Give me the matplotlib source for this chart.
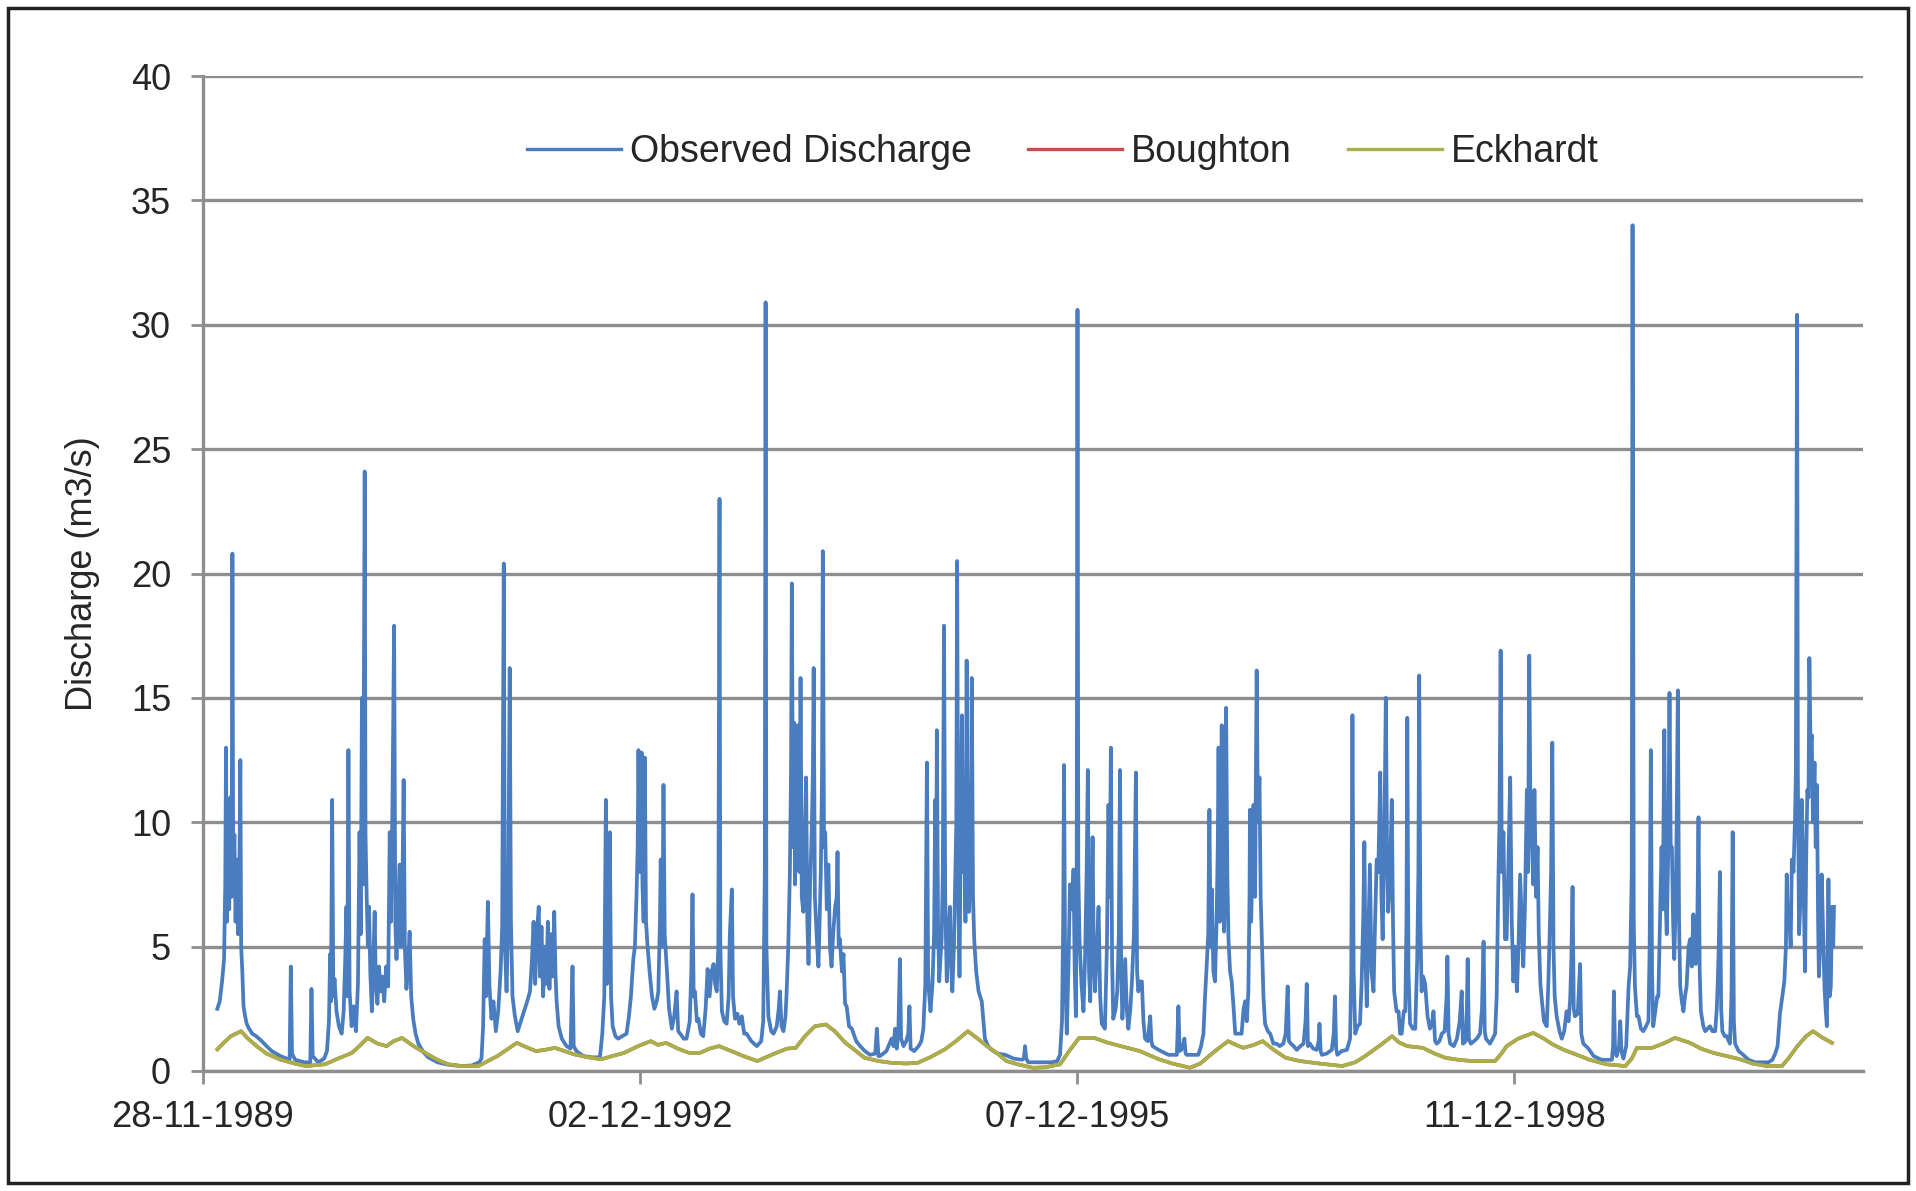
import numpy as np
import matplotlib
matplotlib.use("Agg")
import matplotlib.pyplot as plt
import matplotlib.dates as mdates
from matplotlib.patches import Rectangle

start_date = np.datetime64("1989-11-28")

obs_day = [
    36, 42, 48, 53, 56, 58, 60, 63, 66, 69, 72, 74, 76, 79, 82, 85, 88, 91, 94, 96, 99, 102, 106, 110, 116, 124,
    134, 148, 160, 173, 195, 218, 221, 224, 232, 255, 270, 273, 276, 290, 305, 312, 317, 320, 322, 325, 328, 331,
    336, 342, 349, 354, 358, 361, 363, 366, 369, 374, 379, 385, 390, 394, 397, 400, 403, 407, 409, 412, 415, 418,
    421, 425, 428, 432, 435, 439, 443, 447, 451, 456, 461, 466, 470, 473, 477, 481, 484, 487, 491, 495, 498, 502,
    505, 508, 512, 516, 520, 524, 529, 535, 542, 555, 567, 590, 618, 650, 676, 695, 701, 705, 709, 712, 717, 721,
    726, 731, 737, 743, 749, 753, 757, 760, 764, 768, 772, 775, 779, 785, 792, 800, 808, 816, 823, 828, 832, 836,
    840, 845, 848, 852, 856, 860, 864, 868, 872, 876, 880, 884, 887, 890, 895, 903, 915, 925, 930, 933, 940, 957,
    980, 999, 1005, 1010, 1014, 1017, 1020, 1024, 1027, 1031, 1038, 1045, 1055, 1066, 1072, 1077, 1083, 1087, 1091,
    1094, 1096, 1099, 1101, 1104, 1106, 1109, 1112, 1115, 1119, 1124, 1130, 1136, 1142, 1146, 1150, 1152, 1156,
    1159, 1162, 1167, 1173, 1180, 1186, 1192, 1196, 1201, 1210, 1217, 1225, 1229, 1232, 1235, 1238, 1243, 1247,
    1253, 1259, 1265, 1270, 1275, 1280, 1285, 1289, 1293, 1297, 1300, 1302, 1306, 1312, 1318, 1323, 1326, 1331,
    1334, 1339, 1345, 1350, 1356, 1362, 1368, 1380, 1394, 1405, 1410, 1414, 1416, 1418, 1423, 1430, 1436, 1444,
    1449, 1452, 1456, 1461, 1466, 1469, 1473, 1477, 1480, 1482, 1485, 1488, 1490, 1494, 1497, 1501, 1504, 1507,
    1511, 1514, 1518, 1521, 1524, 1528, 1532, 1535, 1537, 1540, 1545, 1549, 1555, 1558, 1560, 1563, 1566, 1570,
    1574, 1578, 1582, 1586, 1591, 1595, 1597, 1600, 1603, 1608, 1612, 1616, 1620, 1626, 1633, 1644, 1654, 1666,
    1679, 1692, 1696, 1700, 1704, 1720, 1733, 1738, 1742, 1746, 1750, 1754, 1757, 1763, 1770, 1775, 1778, 1781,
    1790, 1801, 1808, 1813, 1818, 1822, 1825, 1827, 1831, 1836, 1840, 1843, 1845, 1847, 1850, 1853, 1856, 1859,
    1862, 1865, 1868, 1872, 1876, 1880, 1883, 1886, 1890, 1893, 1896, 1898, 1901, 1904, 1907, 1910, 1913, 1916,
    1919, 1922, 1925, 1928, 1932, 1935, 1938, 1941, 1946, 1952, 1960, 1968, 1976, 1985, 2000, 2019, 2040, 2061,
    2066, 2069, 2072, 2077, 2100, 2136, 2150, 2157, 2162, 2165, 2167, 2170, 2174, 2178, 2182, 2186, 2191, 2194,
    2197, 2199, 2201, 2203, 2206, 2211, 2216, 2220, 2224, 2227, 2230, 2233, 2236, 2239, 2242, 2245, 2250, 2254,
    2258, 2262, 2270, 2275, 2279, 2282, 2285, 2288, 2291, 2297, 2301, 2305, 2308, 2311, 2314, 2318, 2321, 2325,
    2329, 2334, 2338, 2343, 2348, 2351, 2354, 2359, 2363, 2367, 2371, 2378, 2384, 2387, 2390, 2405, 2430, 2451,
    2455, 2458, 2462, 2466, 2470, 2473, 2476, 2490, 2505, 2512, 2518, 2522, 2526, 2530, 2533, 2536, 2539, 2543,
    2547, 2551, 2554, 2556, 2559, 2562, 2564, 2567, 2570, 2573, 2575, 2578, 2581, 2585, 2589, 2594, 2598, 2606,
    2614, 2619, 2623, 2627, 2631, 2634, 2635, 2638, 2641, 2644, 2648, 2650, 2652, 2655, 2659, 2662, 2665, 2669,
    2673, 2680, 2686, 2694, 2702, 2710, 2719, 2725, 2730, 2733, 2738, 2745, 2753, 2762, 2770, 2775, 2778, 2781,
    2786, 2794, 2803, 2808, 2810, 2813, 2816, 2828, 2841, 2846, 2849, 2852, 2855, 2866, 2879, 2887, 2890, 2893,
    2896, 2900, 2906, 2912, 2916, 2920, 2923, 2926, 2929, 2933, 2937, 2941, 2946, 2950, 2954, 2958, 2961, 2963,
    2966, 2969, 2973, 2977, 2980, 2983, 2987, 2992, 2995, 2998, 3004, 3009, 3013, 3017, 3022, 3026, 3029, 3031,
    3034, 3038, 3045, 3051, 3056, 3059, 3061, 3064, 3067, 3071, 3076, 3082, 3088, 3094, 3097, 3101, 3105, 3112,
    3118, 3125, 3130, 3132, 3135, 3139, 3148, 3156, 3163, 3168, 3171, 3178, 3181, 3183, 3186, 3191, 3199, 3206,
    3214, 3219, 3223, 3226, 3229, 3239, 3246, 3252, 3256, 3260, 3263, 3266, 3269, 3273, 3277, 3281, 3285, 3290,
    3294, 3298, 3302, 3307, 3311, 3315, 3319, 3323, 3327, 3332, 3335, 3338, 3341, 3344, 3348, 3351, 3355, 3359,
    3362, 3366, 3370, 3375, 3382, 3386, 3390, 3393, 3396, 3399, 3402, 3407, 3414, 3420, 3426, 3432, 3437, 3441,
    3444, 3447, 3450, 3453, 3460, 3466, 3469, 3474, 3487, 3500, 3520, 3546, 3549, 3551, 3554, 3558, 3564, 3567,
    3570, 3575, 3582, 3588, 3592, 3596, 3598, 3601, 3604, 3609, 3613, 3619, 3625, 3632, 3638, 3641, 3644, 3647,
    3650, 3656, 3660, 3663, 3667, 3671, 3674, 3678, 3681, 3684, 3688, 3691, 3694, 3697, 3700, 3703, 3707, 3709,
    3712, 3715, 3718, 3722, 3726, 3730, 3734, 3739, 3743, 3747, 3751, 3754, 3757, 3761, 3764, 3767, 3770, 3776,
    3781, 3787, 3793, 3799, 3806, 3810, 3812, 3815, 3818, 3821, 3824, 3830, 3835, 3843, 3847, 3850, 3853, 3856,
    3865, 3873, 3890, 3906, 3925, 3940, 3950, 3957, 3963, 3969, 3975, 3980, 3984, 3986, 3989, 3992, 3996, 3999,
    4003, 4007, 4009, 4012, 4014, 4017, 4021, 4024, 4028, 4032, 4035, 4038, 4041, 4043, 4046, 4049, 4052, 4056,
    4059, 4062, 4065, 4067, 4070, 4074, 4077, 4081, 4084, 4087, 4091, 4094, 4097, 4100, 4103, 4105,
]
obs_q = [
    2.5, 2.8, 3.6, 4.5, 7.5, 13.0, 6.0, 9.0, 6.5, 11.0, 7.0, 20.8, 8.0, 9.5, 6.0, 8.5, 5.5, 7.0, 12.5, 5.0, 4.0, 2.6,
    2.2, 1.9, 1.7, 1.5, 1.4, 1.2, 1.0, 0.8, 0.6, 0.45, 4.2, 0.7, 0.45, 0.35, 0.35, 3.3, 0.6, 0.35, 0.5, 0.8, 2.0,
    4.7, 2.8, 10.9, 3.0, 3.7, 2.4, 1.8, 1.5, 2.4, 4.5, 6.6, 3.0, 12.9, 3.2, 1.8, 2.6, 1.6, 3.5, 9.6, 5.5, 15.0, 7.5,
    24.1, 9.5, 7.0, 5.0, 6.6, 4.0, 2.4, 3.8, 6.4, 3.5, 2.7, 4.2, 3.2, 3.8, 2.8, 4.2, 3.4, 9.6, 6.0, 11.0, 17.9, 6.0,
    4.5, 6.5, 8.3, 5.0, 7.5, 11.7, 5.0, 3.3, 4.2, 5.6, 3.0, 2.1, 1.5, 1.1, 0.75, 0.55, 0.35, 0.25, 0.2, 0.22, 0.35,
    0.5, 1.8, 5.3, 3.0, 6.8, 3.4, 2.1, 2.8, 1.6, 2.4, 4.0, 5.8, 20.4, 5.0, 3.2, 6.0, 16.2, 6.0, 3.0, 2.2, 1.6, 2.0,
    2.4, 2.8, 3.2, 4.5, 6.0, 3.5, 5.5, 6.6, 3.8, 5.8, 3.0, 5.0, 3.5, 6.0, 3.3, 5.5, 3.8, 6.4, 4.0, 2.8, 1.8, 1.3,
    1.0, 0.9, 4.2, 1.0, 0.8, 0.6, 0.55, 0.55, 1.5, 3.0, 10.9, 3.5, 4.0, 9.6, 3.0, 1.8, 1.4, 1.3, 1.4, 1.5, 2.2, 3.0,
    4.5, 5.0, 7.0, 9.0, 12.9, 8.0, 11.5, 12.8, 7.5, 6.0, 12.6, 6.0, 5.0, 4.0, 3.0, 2.5, 2.8, 3.2, 6.0, 8.5, 5.0,
    11.5, 5.5, 4.2, 2.5, 1.7, 2.2, 3.2, 1.6, 1.5, 1.3, 1.3, 2.0, 4.0, 7.1, 3.0, 3.2, 2.0, 2.1, 1.5, 1.4, 2.5, 4.1,
    3.0, 4.0, 4.3, 3.5, 3.2, 5.0, 23.0, 5.0, 2.4, 2.0, 1.9, 3.0, 5.5, 7.3, 3.0, 2.1, 2.3, 1.9, 2.2, 1.5, 1.5, 1.2,
    1.0, 1.2, 2.0, 8.0, 30.9, 5.0, 2.2, 1.6, 1.5, 1.8, 2.5, 3.2, 1.8, 1.6, 2.2, 3.2, 5.0, 7.9, 12.0, 19.6, 9.0,
    14.0, 7.5, 10.5, 13.9, 8.0, 15.8, 7.0, 6.4, 9.0, 11.8, 6.0, 4.3, 7.5, 9.6, 12.0, 16.2, 7.0, 5.3, 4.2, 8.0,
    12.0, 20.9, 9.0, 9.6, 6.5, 8.3, 5.0, 4.2, 5.5, 6.6, 7.0, 8.8, 5.0, 5.3, 4.0, 4.7, 2.7, 2.6, 1.8, 1.7, 1.2, 1.0,
    0.8, 0.65, 0.7, 1.7, 0.6, 0.6, 0.8, 1.3, 1.0, 1.7, 0.9, 1.5, 4.5, 1.3, 1.0, 1.2, 1.5, 2.6, 0.9, 0.8, 1.0, 1.2,
    1.7, 3.5, 12.4, 4.0, 3.2, 2.4, 3.5, 5.5, 10.9, 5.0, 13.7, 6.0, 3.6, 4.5, 5.3, 8.0, 17.9, 7.0, 3.6, 5.5, 6.6,
    4.2, 3.2, 5.0, 7.6, 10.0, 20.5, 7.0, 3.8, 9.0, 14.3, 8.0, 9.6, 6.0, 16.5, 7.0, 6.4, 9.0, 15.8, 7.0, 5.3, 4.0,
    3.2, 2.8, 1.3, 1.0, 0.85, 0.7, 0.65, 0.5, 0.45, 0.5, 1.0, 0.5, 0.35, 0.35, 0.35, 0.4, 0.65, 2.0, 6.0, 12.3, 4.0,
    1.5, 4.0, 7.5, 6.5, 8.1, 4.0, 2.2, 8.0, 30.6, 8.0, 5.3, 3.5, 2.4, 4.5, 8.0, 12.1, 4.0, 2.8, 6.0, 9.4, 4.5, 3.2,
    5.0, 6.6, 3.0, 1.9, 1.7, 5.0, 10.7, 7.0, 13.0, 4.5, 2.1, 2.5, 3.2, 5.5, 12.1, 4.0, 2.1, 3.5, 4.5, 2.5, 1.7, 2.5,
    3.6, 5.5, 12.0, 4.0, 3.2, 3.6, 3.6, 2.0, 1.3, 1.2, 2.2, 1.2, 1.0, 0.85, 0.65, 0.65, 2.6, 0.8, 0.85, 1.0, 1.3,
    0.7, 0.65, 0.65, 0.65, 1.0, 1.5, 3.0, 4.2, 5.5, 10.5, 5.0, 7.3, 4.0, 3.6, 6.0, 9.0, 13.0, 6.0, 9.5, 13.9, 7.0,
    5.6, 9.5, 14.6, 8.0, 5.3, 4.0, 3.6, 2.5, 1.5, 1.5, 1.5, 2.5, 2.8, 2.0, 3.2, 7.0, 10.5, 6.0, 8.0, 10.7, 7.0,
    12.0, 16.1, 10.0, 11.8, 7.0, 5.3, 3.0, 1.9, 1.6, 1.5, 1.1, 1.1, 1.0, 1.1, 1.5, 3.4, 1.2, 1.1, 1.0, 0.85, 1.0,
    1.1, 2.0, 3.5, 1.0, 1.1, 0.9, 0.85, 1.2, 1.9, 0.8, 0.65, 0.7, 0.85, 1.5, 3.0, 0.9, 0.65, 0.8, 0.85, 1.3, 4.0,
    14.3, 4.0, 1.5, 1.8, 1.9, 3.5, 6.0, 9.2, 4.5, 2.6, 5.5, 8.3, 4.0, 3.2, 6.0, 8.5, 8.0, 10.5, 12.0, 7.0, 5.3, 9.0,
    15.0, 9.0, 6.4, 7.5, 10.9, 6.0, 3.2, 2.4, 2.4, 1.5, 1.5, 2.4, 2.4, 6.0, 14.2, 4.0, 1.9, 1.7, 1.7, 4.5, 8.0,
    15.9, 6.0, 3.2, 3.8, 3.5, 2.2, 1.7, 2.0, 2.4, 1.2, 1.1, 1.2, 1.5, 1.6, 3.0, 4.6, 1.5, 1.1, 1.0, 1.3, 2.0, 3.2,
    1.1, 1.2, 2.5, 4.5, 1.3, 1.1, 1.2, 1.3, 1.5, 2.5, 5.2, 1.6, 1.3, 1.1, 1.3, 1.5, 3.0, 7.4, 10.0, 16.9, 8.0, 9.6,
    5.3, 5.3, 8.0, 11.8, 6.0, 3.6, 5.0, 3.2, 5.0, 7.9, 6.0, 4.2, 6.5, 11.3, 8.0, 16.7, 10.5, 9.5, 7.5, 11.3, 7.0,
    9.0, 5.5, 3.5, 2.8, 2.0, 1.8, 3.5, 5.9, 8.0, 13.2, 5.0, 3.0, 2.2, 1.6, 1.3, 1.6, 2.4, 2.0, 2.9, 4.5, 7.4, 2.5,
    2.2, 2.3, 4.3, 1.5, 1.1, 0.9, 0.6, 0.45, 0.45, 1.0, 3.2, 0.8, 0.6, 1.0, 2.0, 0.8, 0.5, 1.0, 3.4, 4.2, 8.0,
    34.0, 6.0, 3.4, 2.2, 2.2, 1.7, 1.6, 1.8, 2.0, 5.0, 12.9, 4.0, 1.8, 2.5, 3.0, 3.0, 6.0, 9.0, 6.5, 13.7, 7.0, 5.5,
    9.0, 15.2, 9.0, 9.0, 6.0, 4.5, 7.0, 10.0, 15.3, 6.0, 3.4, 2.8, 2.4, 3.0, 3.4, 5.0, 5.3, 4.2, 6.3, 5.0, 4.3,
    6.0, 10.2, 4.0, 2.4, 1.8, 1.6, 1.7, 1.8, 1.6, 1.6, 2.5, 3.4, 5.0, 8.0, 2.5, 1.6, 1.4, 1.4, 1.1, 3.0, 9.6, 2.0,
    1.1, 0.8, 0.7, 0.45, 0.35, 0.35, 0.35, 0.45, 0.7, 1.0, 2.3, 3.0, 3.6, 5.0, 7.9, 6.0, 6.2, 5.0, 8.5, 8.0, 10.2,
    12.0, 30.4, 12.0, 5.5, 7.0, 10.9, 8.0, 4.0, 8.5, 11.3, 11.0, 16.6, 13.0, 13.5, 10.0, 12.4, 9.0, 11.5, 6.0, 3.8,
    5.0, 7.9, 6.0, 3.4, 2.5, 1.8, 7.7, 3.0, 3.4, 6.6, 5.0, 6.6,
]

# Baseflow separated by the Eckhardt filter; the Boughton result lies on the same trace
base_day = [
    36, 50, 70, 96, 110, 135, 160, 193, 230, 259, 307, 340, 375, 400, 414, 440, 462, 480, 501, 530, 559, 590, 617,
    650, 693, 741, 790, 815, 838, 860, 886, 910, 934, 970, 1002, 1030, 1060, 1095, 1127, 1145, 1166, 1195, 1223,
    1251, 1275, 1299, 1330, 1360, 1395, 1443, 1470, 1492, 1515, 1540, 1568, 1590, 1617, 1640, 1665, 1700, 1732,
    1770, 1799, 1830, 1867, 1895, 1925, 1950, 1973, 2000, 2022, 2055, 2089, 2120, 2157, 2180, 2205, 2243, 2275,
    2310, 2358, 2406, 2440, 2484, 2510, 2532, 2555, 2580, 2600, 2618, 2645, 2667, 2695, 2725, 2761, 2810, 2867,
    2900, 2925, 2960, 2993, 3010, 3031, 3070, 3100, 3127, 3160, 3194, 3252, 3268, 3281, 3310, 3348, 3375, 3397,
    3425, 3455, 3490, 3532, 3580, 3596, 3609, 3647, 3675, 3705, 3743, 3770, 3801, 3835, 3869, 3900, 3936, 3974,
    3990, 4013, 4035, 4052, 4075, 4100,
]
eckhardt_q = [
    0.87, 1.1, 1.4, 1.6, 1.35, 1.0, 0.7, 0.47, 0.3, 0.2, 0.27, 0.5, 0.73, 1.1, 1.33, 1.1, 1.0, 1.2, 1.33, 1.0, 0.73,
    0.45, 0.27, 0.2, 0.2, 0.6, 1.13, 0.95, 0.8, 0.85, 0.93, 0.8, 0.67, 0.55, 0.47, 0.6, 0.73, 1.0, 1.2, 1.05, 1.13,
    0.9, 0.73, 0.73, 0.9, 1.0, 0.8, 0.6, 0.4, 0.73, 0.9, 0.93, 1.4, 1.8, 1.87, 1.6, 1.13, 0.85, 0.53, 0.4, 0.33,
    0.3, 0.33, 0.55, 0.87, 1.2, 1.6, 1.3, 1.0, 0.7, 0.4, 0.25, 0.13, 0.15, 0.27, 0.8, 1.33, 1.33, 1.15, 1.0, 0.8,
    0.47, 0.3, 0.13, 0.3, 0.6, 0.9, 1.2, 1.05, 0.93, 1.05, 1.2, 0.85, 0.53, 0.4, 0.3, 0.2, 0.35, 0.6, 1.0, 1.4,
    1.15, 1.0, 0.93, 0.7, 0.53, 0.45, 0.4, 0.4, 0.7, 1.0, 1.3, 1.53, 1.3, 1.07, 0.85, 0.67, 0.45, 0.27, 0.2, 0.5,
    0.93, 0.93, 1.1, 1.33, 1.13, 0.9, 0.73, 0.6, 0.47, 0.3, 0.2, 0.2, 0.5, 1.0, 1.4, 1.6, 1.35, 1.13,
]
boughton_q = list(eckhardt_q)

tick_days = [0, 1100, 2200, 3300]
y_ticks = [0, 5, 10, 15, 20, 25, 30, 35, 40]

obs_dates = start_date + np.array(obs_day).astype("timedelta64[D]")
base_dates = start_date + np.array(base_day).astype("timedelta64[D]")
tick_dates = start_date + np.array(tick_days).astype("timedelta64[D]")

plt.rcParams["font.family"] = ["Liberation Sans", "DejaVu Sans"]
text_color = "#262626"
grid_color = "#8e8e8e"

fig = plt.figure(figsize=(19.16, 11.91), dpi=100)
ax = fig.add_axes([203 / 1916, 1 - 1071 / 1191, 1660 / 1916, 995 / 1191])

ax.plot(obs_dates, obs_q, color="#4a7cc0", lw=2.7, label="Observed Discharge", zorder=3)
ax.plot(base_dates, boughton_q, color="#c0504d", lw=2.6, label="Boughton", zorder=4)
ax.plot(base_dates, eckhardt_q, color="#a9b04a", lw=2.6, label="Eckhardt", zorder=5)

ax.set_ylim(0, 40)
ax.set_yticks(y_ticks)
ax.set_xlim(start_date, start_date + np.timedelta64(4178, "D"))
ax.set_xticks(tick_dates)
ax.xaxis.set_major_formatter(mdates.DateFormatter("%d-%m-%Y"))

ax.yaxis.grid(True, color=grid_color, lw=2.4)
ax.set_axisbelow(True)
for side in ("top", "right"):
    ax.spines[side].set_visible(False)
for side in ("left", "bottom"):
    ax.spines[side].set_color(grid_color)
    ax.spines[side].set_linewidth(2.4)

ax.tick_params(axis="y", direction="out", length=9, width=2, color=grid_color,
               labelsize=26, labelcolor=text_color, pad=14)
ax.tick_params(axis="x", direction="out", length=9, width=2, color=grid_color,
               labelsize=26, labelcolor=text_color, pad=12)
ax.set_ylabel("Discharge (m3/s)", fontsize=26, color=text_color, labelpad=22)

leg = ax.legend(loc="center", bbox_to_anchor=(1063 / 1916, 1 - 152 / 1191),
                bbox_transform=fig.transFigure, ncol=3, frameon=False, fontsize=27,
                handlelength=2.5, handletextpad=0.25, columnspacing=1.5)
for t in leg.get_texts():
    t.set_color(text_color)
for h in leg.get_lines():
    h.set_linewidth(2.4)

# dark border round the whole picture
fig.patches.append(Rectangle((8 / 1916, 8 / 1191), 1900 / 1916, 1175 / 1191, transform=fig.transFigure,
                             fill=False, edgecolor="#222222", lw=2.5))

fig.savefig("out.png", dpi=100, facecolor="white")
